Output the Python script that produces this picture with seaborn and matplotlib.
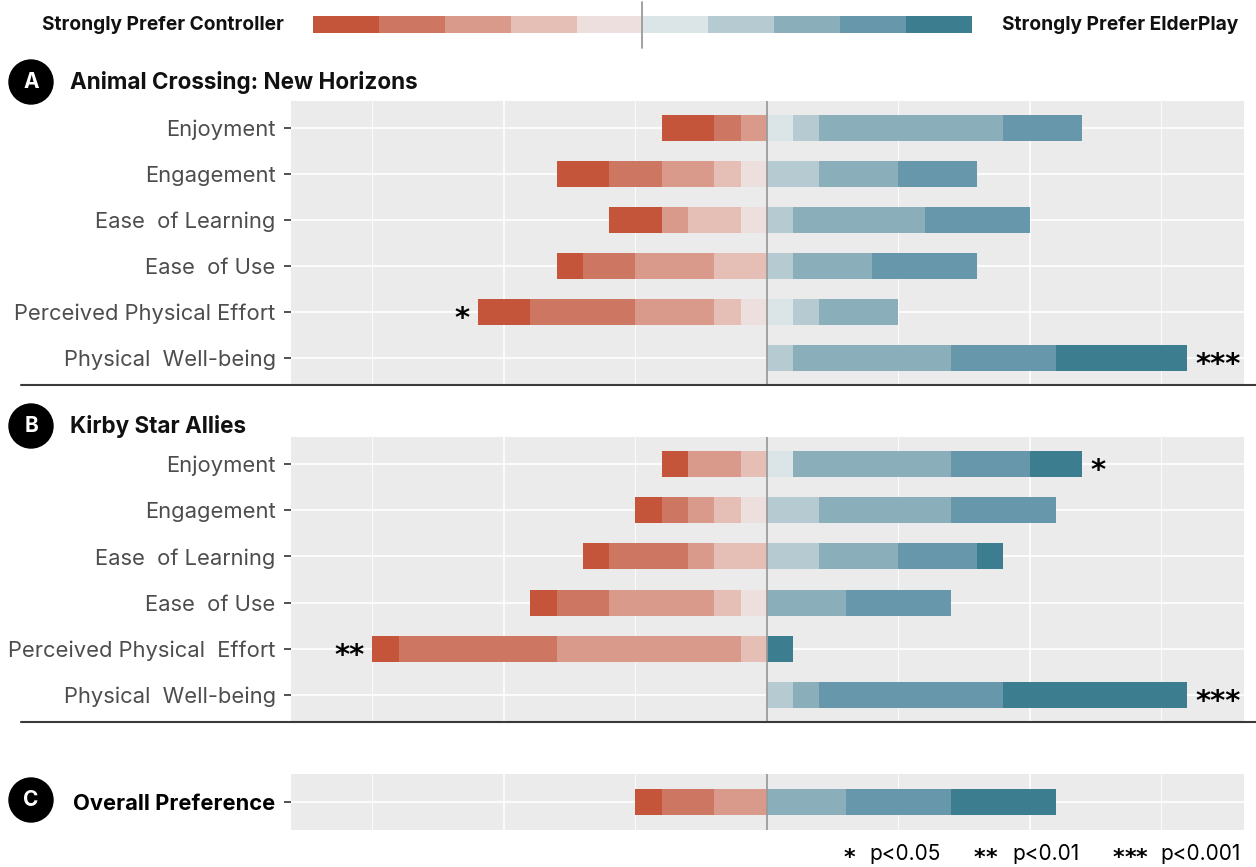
import numpy as np
import pandas as pd
import seaborn as sns
import matplotlib.pyplot as plt
from matplotlib.colors import ListedColormap
from matplotlib.patches import Circle
from matplotlib.lines import Line2D

# Data ------------------------------------------------------------------------
# 10 response levels: 0 = Strongly Prefer Controller ... 9 = Strongly Prefer ElderPlay
palette = ['#C4553A', '#CD7763', '#D99A8B', '#E5BFB5', '#EDDFDE',
           '#DBE5E7', '#B5CBD1', '#8BAFBA', '#6797AA', '#3C7D90']

items_a = ['Enjoyment', 'Engagement', 'Ease  of Learning', 'Ease  of Use',
           'Perceived Physical Effort', 'Physical  Well-being']
counts_a = [
    [2, 1, 1, 0, 0, 1, 1, 7, 3, 0],
    [2, 2, 2, 1, 1, 0, 2, 3, 3, 0],
    [2, 0, 1, 2, 1, 0, 1, 5, 4, 0],
    [1, 2, 3, 2, 0, 0, 1, 3, 4, 0],
    [2, 4, 3, 1, 1, 1, 1, 3, 0, 0],
    [0, 0, 0, 0, 0, 0, 1, 6, 4, 5],
]
sig_a = ['', '', '', '', '*', '***']

items_b = ['Enjoyment', 'Engagement', 'Ease  of Learning', 'Ease  of Use',
           'Perceived Physical  Effort', 'Physical  Well-being']
counts_b = [
    [1, 0, 2, 1, 0, 1, 0, 6, 3, 2],
    [1, 1, 1, 1, 1, 0, 2, 5, 4, 0],
    [1, 3, 1, 2, 0, 0, 2, 3, 3, 1],
    [1, 2, 4, 1, 1, 0, 0, 3, 4, 0],
    [1, 6, 7, 1, 0, 0, 0, 0, 0, 1],
    [0, 0, 0, 0, 0, 0, 1, 1, 7, 7],
]
sig_b = ['*', '', '', '', '**', '***']

items_c = ['Overall Preference']
counts_c = [[1, 2, 2, 0, 0, 0, 0, 3, 4, 4]]
sig_c = ['']

# Style -----------------------------------------------------------------------
sns.set_theme(style='darkgrid', rc={'axes.facecolor': '#EBEBEB',
                                    'grid.color': 'white'})
plt.rcParams['font.family'] = ['Inter', 'DejaVu Sans']

(W, H) = (1256, 867)
fig = plt.figure(figsize=(W / 100, H / 100), dpi=100)


def px_axes(x0, y0, x1, y1):
    return fig.add_axes([x0 / W, 1 - y1 / H, (x1 - x0) / W, (y1 - y0) / H])


def stack_frame(items, counts):
    rows = []
    for (item, cnt) in zip(items, counts):
        cnt = np.array(cnt)
        for k in range(5):
            rows.append((item, k, -cnt[k:5].sum()))
        for k in range(5, 10):
            rows.append((item, k, cnt[5:k + 1].sum()))
    return pd.DataFrame(rows, columns=['item', 'level', 'extent'])


def draw_panel(ax, items, counts, sig, bold=False):
    df = stack_frame(items, counts)
    # longest cumulative bar first, shorter ones on top
    for k in [0, 1, 2, 3, 4, 9, 8, 7, 6, 5]:
        sns.barplot(
            data=df[df['level'] == k], x='extent', y='item', order=items,
            orient='h', color=palette[k], saturation=1, width=0.565,
            errorbar=None, linewidth=0, ax=ax
        )
    for (i, (cnt, s)) in enumerate(zip(counts, sig)):
        if not s:
            continue
        (left, right) = (sum(cnt[:5]), sum(cnt[5:]))
        if right >= left:
            (x, ha) = (right + 0.3, 'left')
        else:
            (x, ha) = (-left - 0.3, 'right')
        ax.text(x, i + 0.33, s, ha=ha, va='baseline', fontsize=21,
                fontweight='bold', family='DejaVu Sans', color='black')
    ax.axvline(0, color='#9A9A9A', lw=1.3, zorder=3)
    n = len(items)
    pad = 0.587 if n > 1 else 0.61
    ax.set_ylim(n - 1 + pad, -pad)
    ax.set_xlim(-18.1, 18.15)
    ax.set_xticks([-10, 0, 10])
    ax.set_xticks([-15, -5, 5, 15], minor=True)
    ax.tick_params(axis='x', which='both', length=0, labelbottom=False)
    ax.tick_params(axis='y', length=5, width=1.2, color='#333333', pad=6,
                   labelsize=15.8, labelcolor='#4D4D4D', left=True)
    ax.grid(False)
    ax.grid(True, which='major', axis='both', color='white', lw=1.2)
    ax.grid(True, which='minor', axis='x', color='white', lw=0.6)
    ax.set_axisbelow(True)
    ax.set_xlabel('')
    ax.set_ylabel('')
    for sp in ax.spines.values():
        sp.set_visible(False)
    if bold:
        for lab in ax.get_yticklabels():
            lab.set_fontweight('bold')
            lab.set_color('black')


axA = px_axes(291, 101, 1244, 385)
draw_panel(axA, items_a, counts_a, sig_a)
axB = px_axes(291, 437, 1244, 722)
draw_panel(axB, items_b, counts_b, sig_b)
axC = px_axes(291, 774, 1244, 830)
draw_panel(axC, items_c, counts_c, sig_c, bold=True)

# Top legend ------------------------------------------------------------------
axL = px_axes(313, 16, 972, 33)
sns.heatmap(np.arange(10).reshape(1, 10), cmap=ListedColormap(palette),
            cbar=False, xticklabels=False, yticklabels=False, ax=axL)
fig.add_artist(Line2D([642 / W] * 2, [1 - 2 / H, 1 - 48 / H],
                      transform=fig.transFigure, color='#9A9A9A', lw=1.3))
fig.text(284 / W, 1 - 25 / H, 'Strongly Prefer Controller', ha='right',
         va='center', fontsize=13.8, fontweight='bold', color='#111111')
fig.text(1002 / W, 1 - 25 / H, 'Strongly Prefer ElderPlay', ha='left',
         va='center', fontsize=13.8, fontweight='bold', color='#111111')

# Panel titles ----------------------------------------------------------------
for (letter, yc, title) in [('A', 82, 'Animal Crossing: New Horizons'),
                            ('B', 426, 'Kirby Star Allies'),
                            ('C', 800, '')]:
    fig.add_artist(Circle((0.31, (H - yc) / 100), 0.22,
                          transform=fig.dpi_scale_trans, color='black'))
    fig.text(31 / W, 1 - yc / H, letter, ha='center', va='center',
             fontsize=15, fontweight='bold', color='white')
    if title:
        fig.text(70 / W, 1 - yc / H, title, ha='left', va='center',
                 fontsize=16.2, fontweight='bold', color='#111111')

# Separators ------------------------------------------------------------------
for y in (385, 722):
    fig.add_artist(Line2D([21 / W, 1], [1 - y / H] * 2,
                          transform=fig.transFigure, color='#3A3A3A', lw=1.5))

# Significance legend ---------------------------------------------------------
for (xs, nstar, xp, ptxt) in [(850, 1, 869, 'p<0.05'),
                              (980, 2, 1012, 'p<0.01'),
                              (1119, 3, 1160, 'p<0.001')]:
    for j in range(nstar):
        fig.text((xs + 11.5 * j) / W, 1 - 856 / H, r'$\mathbf{*}$',
                 ha='center', va='center', fontsize=16, color='black')
    fig.text(xp / W, 1 - 854 / H, ptxt, ha='left', va='center',
             fontsize=15, color='black')

fig.savefig('out.png', dpi=100)
